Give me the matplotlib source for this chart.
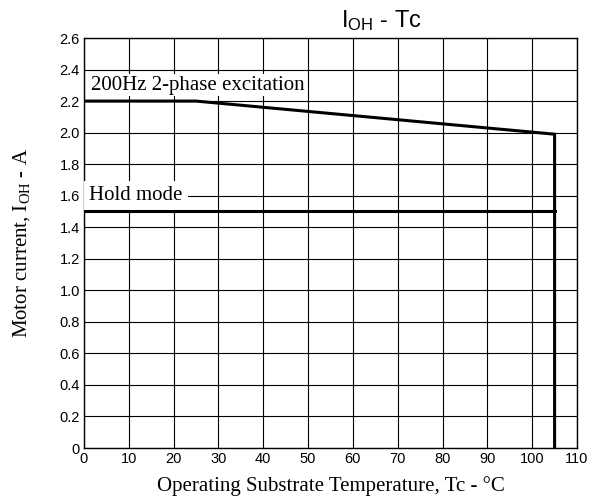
import matplotlib
matplotlib.use('Agg')
import matplotlib.pyplot as plt

# curve data
excite_x = [0, 25, 105, 105]
excite_y = [2.2, 2.2, 1.99, 0]
hold_x = [0, 105]
hold_y = [1.5, 1.5]

x_ticks = list(range(0, 111, 10))
y_ticks = [0, 0.2, 0.4, 0.6, 0.8, 1.0, 1.2, 1.4, 1.6, 1.8, 2.0, 2.2, 2.4, 2.6]
y_labels = ['0'] + ['%.1f' % v for v in y_ticks[1:]]

serif = ['Liberation Serif', 'DejaVu Serif']
sans = ['Liberation Sans', 'DejaVu Sans']

fig = plt.figure(figsize=(5.92, 4.99), dpi=100)
ax = fig.add_axes([84 / 592, 1 - 448 / 499, 493 / 592, 410 / 499])

ax.plot(excite_x, excite_y, color='black', linewidth=2.2, solid_joinstyle='miter', zorder=4)
ax.plot(hold_x, hold_y, color='black', linewidth=2.2, zorder=4)

ax.set_xlim(0, 110)
ax.set_ylim(0, 2.6)
ax.set_xticks(x_ticks)
ax.set_yticks(y_ticks)
ax.set_yticklabels(y_labels)
ax.grid(True, color='black', linewidth=0.8)
ax.set_axisbelow(True)
ax.tick_params(length=0, pad=3, labelsize=10.5)
for lab in ax.get_xticklabels() + ax.get_yticklabels():
    lab.set_family(sans)
for sp in ax.spines.values():
    sp.set_linewidth(1.0)

ax.text(1.5, 2.3, '200Hz 2-phase excitation', family=serif, fontsize=15,
        va='center', ha='left', zorder=3,
        bbox=dict(facecolor='white', edgecolor='none', pad=1))
ax.text(1.2, 1.6, 'Hold mode', family=serif, fontsize=15,
        va='center', ha='left', zorder=3,
        bbox=dict(facecolor='white', edgecolor='none', pad=4))

ax.set_xlabel('Operating Substrate Temperature, Tc - \u00b0C', family=serif, fontsize=15)
ax.set_ylabel(r'Motor current, $\mathregular{I_{OH}}$ - A', family=serif, fontsize=15)
ax.xaxis.set_label_coords(0.5, -(476 - 448) / 410)
ax.yaxis.set_label_coords(-(84 - 32) / 493, 0.5)

fig.text(381 / 592, 1 - 21 / 499, r'$\mathregular{I_{OH}}$ - Tc', family=sans, fontsize=17,
         ha='center', va='center')

fig.savefig('out.png', dpi=100)
